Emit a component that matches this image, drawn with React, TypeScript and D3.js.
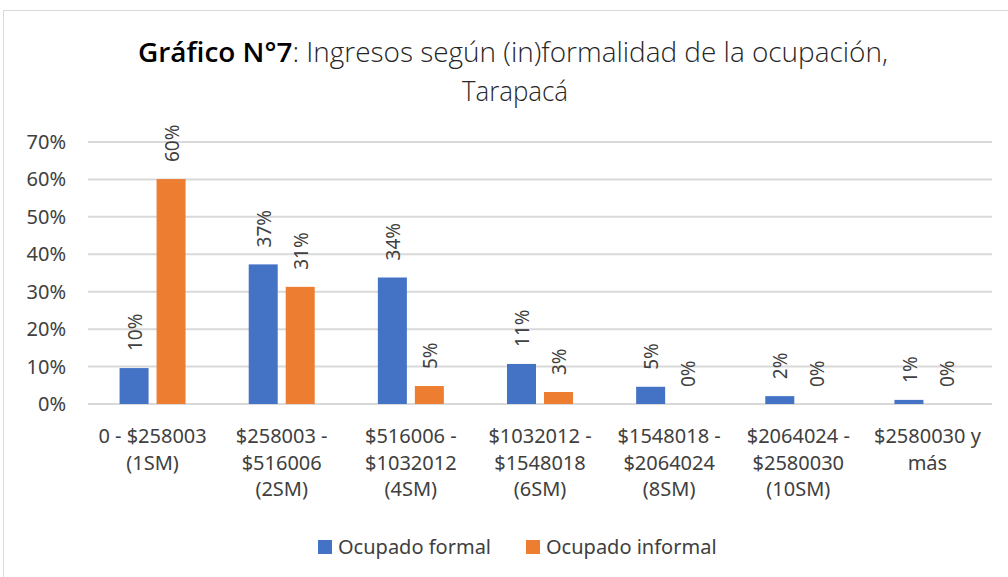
import React from 'react';
import * as d3 from 'd3';

const categories = [
  ['0 - $258003', '(1SM)'],
  ['$258003 -', '$516006', '(2SM)'],
  ['$516006 -', '$1032012', '(4SM)'],
  ['$1032012 -', '$1548018', '(6SM)'],
  ['$1548018 -', '$2064024', '(8SM)'],
  ['$2064024 -', '$2580030', '(10SM)'],
  ['$2580030 y', 'más'],
];
const seriesNames = ['Ocupado formal', 'Ocupado informal'];
const formal = [0.096, 0.373, 0.338, 0.107, 0.046, 0.021, 0.011];
const informal = [0.601, 0.313, 0.048, 0.032, 0.0, 0.0, 0.0];
const colors = ['#4472C4', '#ED7D31'];
const yTicks = [0, 0.1, 0.2, 0.3, 0.4, 0.5, 0.6, 0.7];

const W = 1008, H = 577;
const m = { left: 88, right: 16, top: 142, bottom: 173 };
const font = '"Noto Sans", "Open Sans", sans-serif';
const txt = '#404040';

export default function App() {
  const keys = categories.map((_, i) => String(i));
  const x0 = d3.scaleBand<string>()
    .domain(keys)
    .range([m.left, W - m.right])
    .paddingInner(0.489)
    .paddingOuter(0.2445);
  const x1 = d3.scaleBand<string>()
    .domain(seriesNames)
    .range([0, x0.bandwidth()])
    .paddingInner(0.216);
  const y = d3.scaleLinear().domain([0, 0.7]).range([H - m.bottom, m.top]);
  const fmt = d3.format('.0%');
  const series = [formal, informal];

  return (
    <svg width={W} height={H} style={{ position: 'absolute', left: 0, top: 0, background: '#fff' }}>
      <rect x={3.5} y={10.5} width={1100} height={700} fill="#fff" stroke="#d9d9d9" />

      {/* title */}
      <text x={138} y={62} fontFamily='"Open Sans", sans-serif' fontSize={27} fontWeight={300} fill="#262626"
        textLength={750} lengthAdjust="spacingAndGlyphs">
        <tspan fontWeight={600} fill="#000">Gráfico N°7</tspan>
        <tspan>: Ingresos según (in)formalidad de la ocupación,</tspan>
      </text>
      <text x={462} y={101} fontFamily='"Open Sans", sans-serif' fontSize={27} fontWeight={300} fill="#262626"
        textLength={106} lengthAdjust="spacingAndGlyphs">Tarapacá</text>

      {/* grid + y ticks */}
      {yTicks.map(t => (
        <g key={t}>
          <line x1={m.left} x2={W - m.right} y1={y(t)} y2={y(t)} stroke="#d9d9d9" strokeWidth={2} />
          <text x={66} y={y(t)} dy="0.35em" textAnchor="end" fontFamily={font} fontSize={20} fill={txt}>
            {fmt(t)}
          </text>
        </g>
      ))}

      {/* bars */}
      {series.map((vals, s) => vals.map((v, i) => {
        const bx = x0(keys[i])! + x1(seriesNames[s])!;
        return (
          <g key={`${s}-${i}`}>
            <rect x={bx} y={y(v)} width={x1.bandwidth()} height={y(0) - y(v)} fill={colors[s]} />
            <text transform={`translate(${bx + x1.bandwidth() / 2 + 1},${y(v) - 17}) rotate(-90)`}
              dy="0.35em" fontFamily={font} fontSize={19} fill={txt}>
              {fmt(v)}
            </text>
          </g>
        );
      }))}

      {/* x labels */}
      {categories.map((lines, i) => (
        <text key={i} x={x0(keys[i])! + x0.bandwidth() / 2} y={443} textAnchor="middle"
          fontFamily={font} fontSize={20} fill={txt}>
          {lines.map((l, j) => (
            <tspan key={j} x={x0(keys[i])! + x0.bandwidth() / 2} dy={j === 0 ? 0 : 26.5}>{l}</tspan>
          ))}
        </text>
      ))}

      {/* legend */}
      {seriesNames.map((n, i) => {
        const lx = i === 0 ? 318 : 526;
        return (
          <g key={n}>
            <rect x={lx} y={540} width={14} height={14} fill={colors[i]} />
            <text x={lx + 20} y={554} fontFamily={font} fontSize={20} fill={txt}>{n}</text>
          </g>
        );
      })}
    </svg>
  );
}
